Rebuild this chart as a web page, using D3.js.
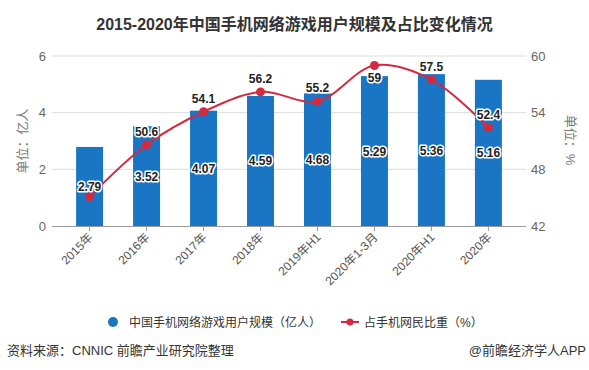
<!DOCTYPE html>
<html>
<head>
<meta charset="utf-8">
<script src="https://cdn.jsdelivr.net/npm/d3@7"></script>
<style>
  body { margin: 0; background: #fff; }
  svg { display: block; font-family: "Liberation Sans", "Noto Sans CJK SC", sans-serif; }
</style>
</head>
<body>
<script>
// data
const categories = ["2015年", "2016年", "2017年", "2018年", "2019年H1", "2020年1-3月", "2020年H1", "2020年"];
const users = [2.79, 3.52, 4.07, 4.59, 4.68, 5.29, 5.36, 5.16];      // 亿人
const share = [45.1, 50.6, 54.1, 56.2, 55.2, 59, 57.5, 52.4];        // %
const leftTicks = [0, 2, 4, 6];
const rightTicks = [42, 48, 54, 60];

const width = 589, height = 370;
const barColor = "#1a76c4";
const lineColor = "#d42a3f";

const svg = d3.select("body").append("svg")
    .attr("width", width)
    .attr("height", height);

// title
svg.append("text")
    .attr("x", width / 2)
    .attr("y", 30)
    .attr("text-anchor", "middle")
    .attr("font-size", 16)
    .attr("font-weight", "bold")
    .attr("fill", "#333")
    .text("2015-2020年中国手机网络游戏用户规模及占比变化情况");

const x = d3.scalePoint()
    .domain(categories)
    .range([52, 526])
    .padding(0.66);

const y = d3.scaleLinear().domain([0, 6]).range([226, 56]);
const y2 = d3.scaleLinear().domain([42, 60]).range([226, 56]);

// grid
svg.append("g")
    .selectAll("line")
    .data(leftTicks.slice(1))
    .enter().append("line")
    .attr("x1", 52).attr("x2", 526)
    .attr("y1", d => y(d)).attr("y2", d => y(d))
    .attr("stroke", "#dcdcdc");

// left axis labels
svg.append("g")
    .selectAll("text")
    .data(leftTicks)
    .enter().append("text")
    .attr("x", 46)
    .attr("y", d => y(d) + 4.5)
    .attr("text-anchor", "end")
    .attr("font-size", 13)
    .attr("fill", "#666")
    .text(d => d);

// right axis labels
svg.append("g")
    .selectAll("text")
    .data(rightTicks)
    .enter().append("text")
    .attr("x", 531)
    .attr("y", d => y2(d) + 4.5)
    .attr("font-size", 13)
    .attr("fill", "#666")
    .text(d => d);

// axis titles
svg.append("text")
    .attr("transform", "translate(27,141) rotate(-90)")
    .attr("text-anchor", "middle")
    .attr("font-size", 13)
    .attr("fill", "#777")
    .text("单位：亿人");

svg.append("text")
    .attr("transform", "translate(566,140) rotate(90)")
    .attr("text-anchor", "middle")
    .attr("font-size", 13)
    .attr("fill", "#777")
    .text("单位：%");

// bars
const barW = 27;
svg.append("g")
    .selectAll("rect")
    .data(users)
    .enter().append("rect")
    .attr("x", (d, i) => x(categories[i]) - barW / 2)
    .attr("y", d => y(d))
    .attr("width", barW)
    .attr("height", d => y(0) - y(d))
    .attr("fill", barColor);

// x axis line + ticks
svg.append("line")
    .attr("x1", 52).attr("x2", 526)
    .attr("y1", y(0) + 0.5).attr("y2", y(0) + 0.5)
    .attr("stroke", "#999");

svg.append("g")
    .selectAll("line")
    .data(categories)
    .enter().append("line")
    .attr("x1", d => x(d)).attr("x2", d => x(d))
    .attr("y1", y(0)).attr("y2", y(0) + 5)
    .attr("stroke", "#999");

svg.append("g")
    .selectAll("text")
    .data(categories)
    .enter().append("text")
    .attr("transform", d => `translate(${x(d) + 4},${y(0) + 12}) rotate(-45)`)
    .attr("text-anchor", "end")
    .attr("font-size", 12)
    .attr("fill", "#555")
    .text(d => d);

// line
const pts = share.map((v, i) => [x(categories[i]), y2(v)]);
svg.append("path")
    .attr("d", d3.line().curve(d3.curveCatmullRom.alpha(0.5))(pts))
    .attr("fill", "none")
    .attr("stroke", lineColor)
    .attr("stroke-width", 2);

svg.append("g")
    .selectAll("circle")
    .data(pts)
    .enter().append("circle")
    .attr("cx", d => d[0])
    .attr("cy", d => d[1])
    .attr("r", 4.5)
    .attr("fill", lineColor);

function halo(sel) {
    sel.attr("font-size", 12)
        .attr("font-weight", "bold")
        .attr("text-anchor", "middle")
        .attr("fill", "#222")
        .attr("stroke", "#fff")
        .attr("stroke-width", 3)
        .attr("stroke-linejoin", "round")
        .attr("paint-order", "stroke");
}

// bar labels, middle of bar
svg.append("g")
    .selectAll("text")
    .data(users)
    .enter().append("text")
    .attr("x", (d, i) => x(categories[i]))
    .attr("y", d => (y(d) + y(0)) / 2 + 4.5)
    .text(d => d)
    .call(halo);

// line labels (the 2015 one is hidden behind the bar label in the original);
// a label that would poke above the top grid line goes under its point
svg.append("g")
    .selectAll("text")
    .data(share.slice(1))
    .enter().append("text")
    .attr("x", (d, i) => x(categories[i + 1]))
    .attr("y", d => y2(d) - 18 < y(6) ? y2(d) + 17 : y2(d) - 9)
    .text(d => d)
    .call(halo);

// legend
const lg = svg.append("g").attr("font-size", 12).attr("fill", "#333");
lg.append("circle").attr("cx", 113).attr("cy", 322).attr("r", 5).attr("fill", barColor);
lg.append("text").attr("x", 129).attr("y", 326.5).text("中国手机网络游戏用户规模（亿人）");
lg.append("line").attr("x1", 341).attr("x2", 359).attr("y1", 322).attr("y2", 322)
    .attr("stroke", lineColor).attr("stroke-width", 2);
lg.append("circle").attr("cx", 350).attr("cy", 322).attr("r", 3.5).attr("fill", lineColor);
lg.append("text").attr("x", 364).attr("y", 326.5).text("占手机网民比重（%）");

// footer
svg.append("text")
    .attr("x", 7).attr("y", 355)
    .attr("font-size", 13).attr("fill", "#333")
    .text("资料来源：CNNIC 前瞻产业研究院整理");
svg.append("text")
    .attr("x", 586).attr("y", 355)
    .attr("text-anchor", "end")
    .attr("font-size", 13).attr("fill", "#333")
    .text("@前瞻经济学人APP");
</script>
</body>
</html>
